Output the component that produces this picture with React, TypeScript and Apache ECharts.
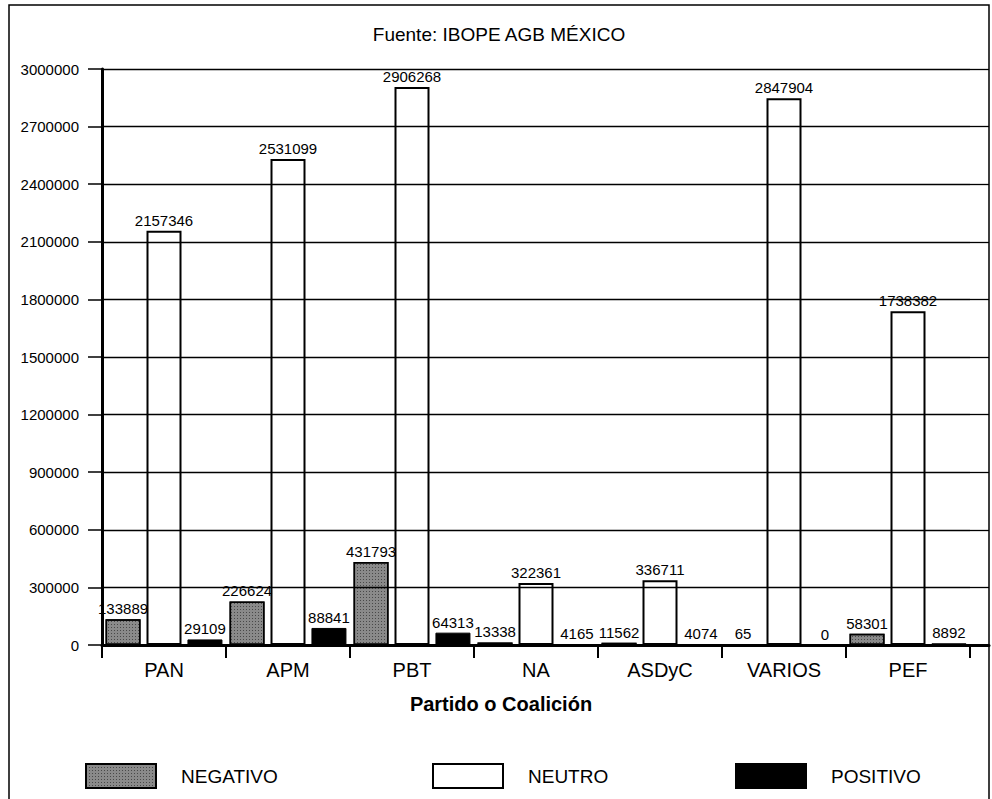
import React, { useEffect, useRef } from "react";
import * as echarts from "echarts";

const categories = ["PAN", "APM", "PBT", "NA", "ASDyC", "VARIOS", "PEF"];
const negativo = [133889, 226624, 431793, 13338, 11562, 65, 58301];
const neutro = [2157346, 2531099, 2906268, 322361, 336711, 2847904, 1738382];
const positivo = [29109, 88841, 64313, 4165, 4074, 0, 8892];

const yMin = 0;
const yMax = 3000000;
const yStep = 300000;

const SANS = "'Liberation Sans', Arial, Helvetica, sans-serif";

export default function App() {
  const ref = useRef<HTMLDivElement>(null);

  useEffect(() => {
    if (!ref.current) return;
    const chart = echarts.init(ref.current, null, { renderer: "svg" });

    const valueLabel = {
      show: true,
      position: "top" as const,
      distance: 3,
      color: "#000",
      fontFamily: SANS,
      fontSize: 15,
    };

    const legendBase = {
      orient: "horizontal" as const,
      top: 763,
      padding: 0,
      itemWidth: 70,
      itemHeight: 24,
      icon: "rect",
      textStyle: { fontFamily: SANS, fontSize: 19, color: "#000", padding: [0, 0, 0, 20] },
    };

    chart.setOption({
      animation: false,
      backgroundColor: "#fff",
      graphic: [
        {
          type: "rect",
          silent: true,
          z: -10,
          shape: { x: 9, y: 5, width: 980, height: 900 },
          style: { fill: "none", stroke: "#000", lineWidth: 1.5 },
        },
        {
          type: "text",
          x: 499,
          y: 34,
          style: {
            text: "Fuente: IBOPE AGB MÉXICO",
            fill: "#000",
            font: `19px ${SANS}`,
            textAlign: "center",
            textVerticalAlign: "middle",
          },
        },
        {
          type: "text",
          x: 501,
          y: 704,
          style: {
            text: "Partido o Coalición",
            fill: "#000",
            font: `bold 20px ${SANS}`,
            textAlign: "center",
            textVerticalAlign: "middle",
          },
        },
      ],
      legend: [
        { ...legendBase, left: 85, data: ["NEGATIVO"] },
        { ...legendBase, left: 432, data: ["NEUTRO"] },
        { ...legendBase, left: 735, data: ["POSITIVO"] },
      ],
      grid: [
        { left: 102, right: 22, top: 69, bottom: 154, containLabel: false },
        { left: 970, right: 3, top: 69, bottom: 154, containLabel: false },
      ],
      xAxis: [
        {
          type: "category",
          gridIndex: 0,
          data: categories,
          axisLine: { show: true, lineStyle: { color: "#000", width: 3 } },
          axisTick: { show: true, length: 13, lineStyle: { color: "#000", width: 2 } },
          axisLabel: { color: "#000", fontFamily: SANS, fontSize: 20, margin: 15 },
          splitLine: { show: false },
          z: 5,
        },
        {
          type: "category",
          gridIndex: 1,
          data: [""],
          axisLine: { show: true, lineStyle: { color: "#000", width: 3 } },
          axisTick: { show: false },
          axisLabel: { show: false },
          z: 5,
        },
      ],
      yAxis: [
        {
          type: "value",
          gridIndex: 0,
          min: yMin,
          max: yMax,
          interval: yStep,
          axisLine: { show: true, lineStyle: { color: "#000", width: 3 } },
          axisTick: { show: true, length: 14, lineStyle: { color: "#000", width: 1.5 } },
          axisLabel: {
            color: "#000",
            fontFamily: SANS,
            fontSize: 15,
            margin: 23,
            formatter: (v: number) => String(v),
          },
          splitLine: { show: true, lineStyle: { color: "#000", width: 1.3 } },
          z: 5,
        },
        {
          type: "value",
          gridIndex: 1,
          min: yMin,
          max: yMax,
          interval: yStep,
          axisLine: { show: false },
          axisTick: { show: false },
          axisLabel: { show: false },
          splitLine: { show: true, lineStyle: { color: "#000", width: 1.3 } },
        },
      ],
      series: [
        {
          name: "NEGATIVO",
          type: "bar",
          data: negativo,
          barWidth: 35,
          barGap: "17%",
          itemStyle: {
            color: "#8a8a8a",
            borderColor: "#000",
            borderWidth: 1.5,
            decal: {
              symbol: "rect",
              symbolSize: 1,
              dashArrayX: [1, 2],
              dashArrayY: [1, 2],
              color: "rgba(30,30,30,0.6)",
              rotation: 0,
            },
          },
          label: valueLabel,
          z: 3,
        },
        {
          name: "NEUTRO",
          type: "bar",
          data: neutro,
          barWidth: 35,
          barGap: "17%",
          itemStyle: { color: "#fff", borderColor: "#000", borderWidth: 2 },
          label: valueLabel,
          z: 3,
        },
        {
          name: "POSITIVO",
          type: "bar",
          data: positivo,
          barWidth: 35,
          barGap: "17%",
          itemStyle: { color: "#000", borderColor: "#000", borderWidth: 1 },
          label: valueLabel,
          z: 3,
        },
      ],
    });

    return () => chart.dispose();
  }, []);

  return (
    <div
      ref={ref}
      style={{ position: "absolute", left: 0, top: 0, width: 992, height: 799 }}
    />
  );
}
